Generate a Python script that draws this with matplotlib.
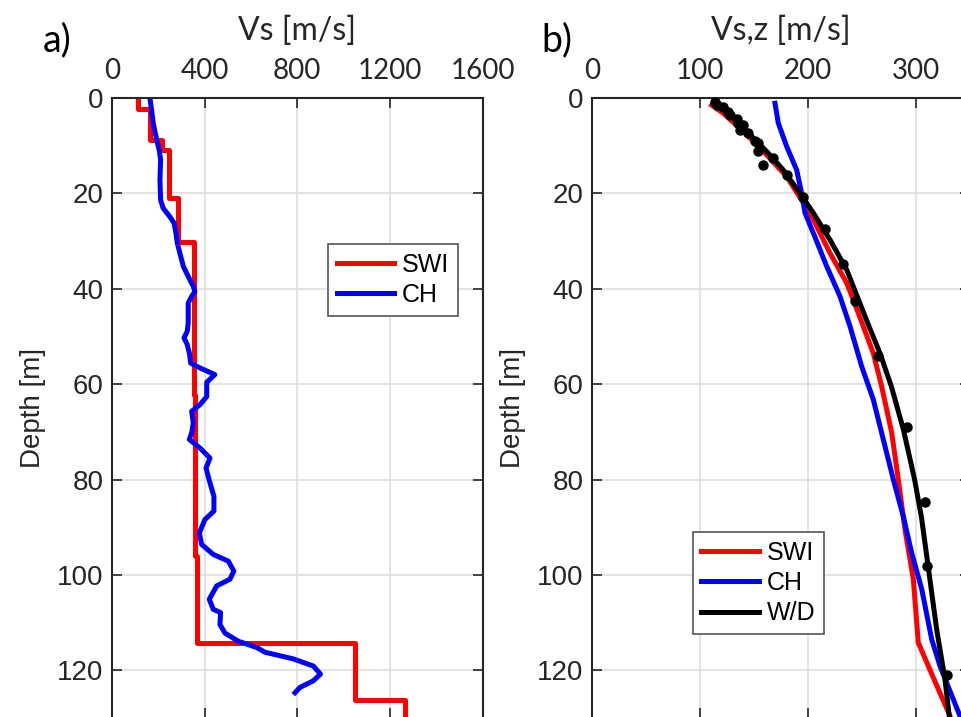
import numpy as np
import matplotlib.pyplot as plt

plt.rcParams['font.family'] = ['Liberation Sans', 'DejaVu Sans']

# ---- a) Vs profiles
swi_vs = [111, 111, 164, 164, 214, 214, 246, 246, 286, 286, 355, 355, 360, 360, 368, 368, 1050, 1050, 1267, 1267]
swi_z = [0, 2.3, 2.3, 8.8, 8.8, 11.0, 11.0, 21.0, 21.0, 30.2, 30.2, 62.2, 62.2, 96.1, 96.1, 114.2, 114.2, 126.2, 126.2, 131]

ch_vs = [164, 171, 178, 193, 204, 210, 207, 210, 221, 250, 268, 276, 282, 293, 308, 329, 351, 358, 344, 329,
         329, 329, 325, 311, 325, 334, 340, 380, 444, 409, 409, 380, 344, 351, 344, 334, 380, 423, 406, 423,
         440, 440, 401, 377, 387, 437, 502, 526, 509, 452, 420, 437, 469, 466, 488, 545, 624, 660, 782, 869,
         900, 869, 811, 790]
ch_z = [0.1, 2.5, 5.3, 8.8, 10.9, 13.0, 17.2, 21.4, 23.1, 24.9, 26.2, 28.3, 30.4, 32.5, 35.3, 37.4, 39.5, 40.6, 41.6, 43.0,
        45.1, 47.2, 48.9, 50.3, 51.7, 53.5, 55.6, 56.6, 58.0, 59.6, 62.6, 64.3, 65.7, 68.1, 70.2, 71.6, 73.4, 75.5, 77.6, 80.7,
        83.5, 86.6, 88.4, 91.2, 93.6, 95.7, 97.1, 99.2, 100.9, 102.3, 105.1, 107.2, 107.9, 110.4, 112.2, 113.9, 115.2, 116.2, 117.6, 119.1,
        120.8, 122.2, 123.6, 124.7]

# ---- b) time-averaged Vs,z
swi_vsz = [111.1, 121.9, 143.5, 162.0, 180.6, 194.4, 205.2, 220.6, 236.1, 242.2, 251.5, 260.7, 268.5, 277.8, 283.9,
           290.1, 297.8, 302.4, 317.0, 331.8, 333.5]
swi_zz = [1.5, 3.2, 7.7, 11.9, 16.5, 21.4, 25.5, 32.5, 38.8, 42.3, 47.9, 53.5, 60.5, 70.2, 80.0,
          90.5, 100.9, 114.2, 121.9, 129.6, 131]

ch_vsz = [169.7, 172.8, 180.6, 189.8, 194.4, 197.5, 205.2, 217.6, 229.9, 239.2, 250.0, 260.7, 270.0, 279.3, 288.5,
          296.3, 305.6, 314.8, 322.5, 341.0]
ch_zz = [1.1, 5.3, 10.2, 15.1, 20.0, 24.1, 28.3, 35.3, 41.6, 47.9, 56.3, 63.2, 71.6, 80.0, 87.7,
         95.4, 103.0, 113.5, 119.1, 129.6]

wd_vsz = [112.6, 121.9, 134.3, 146.6, 162.0, 177.4, 192.9, 205.2, 220.6, 236.1, 246.5, 257.0, 266.9, 277.5, 288.6,
          299.0, 305.4, 312.0, 319.4, 327.1, 331.1, 332.0]
wd_zz = [0, 2.2, 4.6, 7.7, 11.2, 15.1, 20.0, 24.1, 29.7, 36.0, 42.0, 48.0, 53.5, 60.5, 69.5,
         80.0, 88.0, 99.0, 111.4, 121.9, 129.6, 131]

dot_vsz = [114.2, 115.7, 121.9, 126.5, 128.1, 134.3, 135.7, 140.4, 137.3, 145.0, 151.2, 154.3, 154.3, 158.9, 168.2,
           180.6, 195.4, 216.0, 233.0, 243.8, 265.4, 291.7, 308.6, 310.2, 328.7]
dot_zz = [0.8, 1.5, 1.8, 2.9, 3.6, 4.3, 5.3, 5.7, 6.7, 7.3, 9.1, 9.5, 11.2, 14.0, 12.6,
          16.1, 20.8, 27.5, 34.8, 42.5, 54.0, 69.0, 84.7, 98.2, 121.0]

top_font = 'Lato'
spine_c = '#262626'
lw = 3.6

fig = plt.figure(figsize=(9.62, 7.17), dpi=100)
ax1 = fig.add_axes([0.1164, -0.0014, 0.3853, 0.8647])
ax2 = fig.add_axes([0.6151, -0.0014, 0.3929, 0.8647])


def style(ax, xlim, xticks):
    ax.set_xlim(*xlim)
    ax.set_ylim(130, 0)
    ax.set_xticks(xticks)
    ax.set_yticks(np.arange(0, 121, 20))
    ax.xaxis.tick_top()
    ax.xaxis.set_label_position('top')
    ax.tick_params(axis='both', direction='in', length=7, width=1.2, color=spine_c,
                   labelcolor=spine_c, labelsize=20,
                   top=True, bottom=True, left=True, right=True)
    ax.tick_params(axis='x', pad=10, labelfontfamily=top_font)
    ax.tick_params(axis='y', pad=6)
    ax.grid(True, color='#dedede', lw=1.2)
    ax.set_axisbelow(True)
    for s in ax.spines.values():
        s.set_color(spine_c)
        s.set_linewidth(1.5)
    ax.set_ylabel('Depth [m]', fontsize=20, color=spine_c, labelpad=8)


style(ax1, (0, 1600), [0, 400, 800, 1200, 1600])
style(ax2, (0, 350), [0, 100, 200, 300])

ax1.plot(swi_vs, swi_z, color='red', lw=lw, label='SWI')
ax1.plot(ch_vs, ch_z, color='blue', lw=lw, label='CH')
ax1.set_xlabel('Vs [m/s]', family=top_font, fontsize=23, color=spine_c, labelpad=13)

ax2.plot(swi_vsz, swi_zz, color='red', lw=lw, label='SWI')
ax2.plot(ch_vsz, ch_zz, color='blue', lw=lw, label='CH')
ax2.plot(wd_vsz, wd_zz, color='black', lw=lw, label='W/D')
ax2.plot(dot_vsz, dot_zz, 'o', color='black', ms=6.5, zorder=5)
ax2.set_xlabel('Vs,z [m/s]', family=top_font, fontsize=23, color=spine_c, labelpad=13)

for ax, anchor in [(ax1, (0.583, 0.7645)), (ax2, (0.267, 0.30))]:
    leg = ax.legend(loc='upper left', bbox_to_anchor=anchor, borderaxespad=0,
                    fancybox=False, framealpha=1, edgecolor='#555555',
                    prop={'size': 18}, handlelength=2.3,
                    handletextpad=0.3, labelspacing=0.25, borderpad=0.35)
    leg.get_frame().set_linewidth(1.2)

fig.text(0.059, 0.944, 'a)', family=top_font, fontsize=27, ha='center', va='center')
fig.text(0.579, 0.944, 'b)', family=top_font, fontsize=27, ha='center', va='center')

fig.savefig('out.png', dpi=100)
